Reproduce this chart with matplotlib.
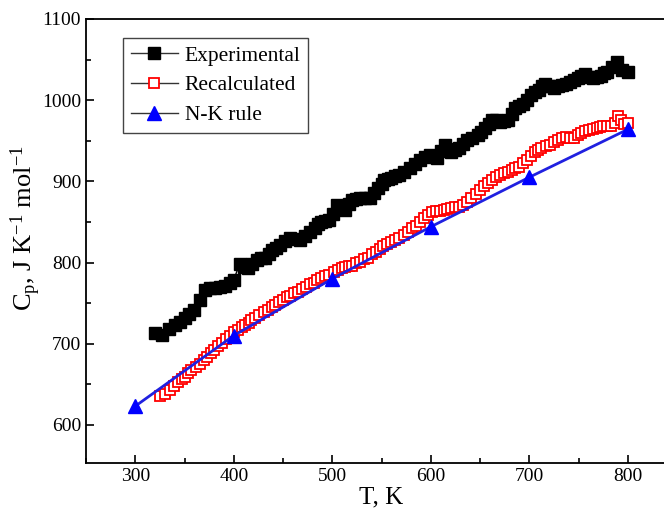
import matplotlib
matplotlib.use("Agg")
import matplotlib.pyplot as plt
from matplotlib.lines import Line2D
from matplotlib.ticker import MultipleLocator

# Experimental data (T, K ; Cp, J K-1 mol-1)
T_exp = [320, 327, 334, 340, 345, 350, 355, 360, 366, 371, 376, 381, 386, 391, 396, 400,
         406, 410, 414, 419, 424, 428, 432, 436, 439, 443, 447, 452, 457, 462, 467, 472,
         477, 482, 486, 489, 493, 497, 501, 505, 509, 513, 517, 520, 524, 528, 533, 538,
         542, 546, 550, 553, 557, 560, 564, 568, 573, 579, 584, 589, 594, 599, 603, 606,
         610, 614, 618, 621, 625, 629, 633, 637, 642, 648, 651, 655, 659, 662, 666, 670,
         674, 678, 682, 686, 690, 694, 698, 702, 706, 710, 713, 716, 720, 725, 729, 733,
         737, 741, 745, 749, 753, 757, 761, 765, 769, 773, 776, 779, 784, 789, 794, 800]
Cp_exp = [713, 711, 718, 723, 727, 732, 737, 742, 754, 766, 768, 769, 770, 771, 775, 779,
          798, 794, 793, 798, 803, 805, 806, 810, 815, 818, 822, 826, 830, 829, 828, 833,
          838, 843, 847, 850, 851, 852, 860, 871, 868, 865, 872, 877, 878, 880, 880, 880,
          886, 892, 897, 902, 903, 904, 906, 908, 912, 917, 921, 926, 930, 933, 931, 929,
          937, 945, 940, 936, 938, 941, 946, 951, 954, 957, 961, 966, 971, 976, 975, 973,
          974, 976, 983, 990, 993, 995, 1000, 1006, 1010, 1013, 1017, 1020, 1017, 1015, 1017, 1019,
          1020, 1022, 1025, 1027, 1030, 1032, 1029, 1027, 1028, 1030, 1033, 1035, 1041, 1047, 1037, 1035]

# Recalculated data
T_rec = [325, 330, 335, 339, 343, 347, 350, 354, 357, 362, 366, 370, 373, 377, 380, 384,
         388, 392, 396, 400, 404, 408, 411, 415, 418, 422, 426, 431, 435, 439, 442, 446,
         450, 454, 457, 461, 465, 469, 473, 477, 481, 485, 489, 493, 497, 502, 506, 510,
         513, 517, 520, 524, 528, 532, 536, 540, 544, 548, 552, 556, 560, 564, 568, 573,
         577, 581, 585, 589, 593, 597, 601, 605, 609, 613, 617, 621, 625, 629, 633, 637,
         641, 646, 650, 654, 658, 662, 666, 670, 674, 678, 682, 686, 690, 694, 698, 702,
         706, 709, 712, 717, 721, 725, 729, 733, 737, 741, 745, 749, 753, 757, 761, 765,
         769, 772, 775, 779, 783, 787, 790, 793, 796, 800]
Cp_rec = [635, 638, 643, 648, 653, 656, 659, 664, 668, 671, 675, 680, 684, 688, 692, 697,
          701, 706, 710, 714, 717, 720, 723, 726, 729, 732, 735, 739, 742, 745, 748, 751,
          754, 757, 759, 762, 764, 767, 770, 773, 775, 778, 781, 783, 785, 788, 791, 793,
          795, 796, 796, 799, 801, 804, 806, 810, 813, 817, 820, 823, 825, 828, 830, 834,
          838, 842, 845, 850, 855, 859, 862, 863, 864, 865, 866, 867, 868, 869, 871, 875,
          880, 885, 889, 894, 898, 902, 905, 908, 910, 912, 914, 916, 918, 922, 926, 931,
          936, 939, 941, 943, 945, 948, 951, 953, 955, 954, 953, 957, 960, 962, 963, 965,
          966, 967, 968, 968, 968, 972, 980, 975, 971, 972]

# N-K rule
T_nk = [300, 400, 500, 600, 700, 800]
Cp_nk = [623, 710, 780, 844, 905, 964]

x_ticks = [300, 400, 500, 600, 700, 800]
y_ticks = [600, 700, 800, 900, 1000, 1100]

plt.rcParams['font.family'] = ['Liberation Serif', 'DejaVu Serif']
plt.rcParams['mathtext.fontset'] = 'custom'
plt.rcParams['mathtext.rm'] = 'Liberation Serif'
plt.rcParams['mathtext.it'] = 'Liberation Serif:italic'

fig = plt.figure(figsize=(6.64, 5.17), dpi=100)
W, H = 664, 517
left_px, top_px, bottom_px = 86, 19, 463
x_scale = 0.985  # px per K
width_px = 600 * x_scale
ax = fig.add_axes([left_px / W, 1 - bottom_px / H, width_px / W, (bottom_px - top_px) / H])

ax.plot(T_exp, Cp_exp, color='black', lw=1, marker='s', ms=8.2,
        mfc='black', mec='black', zorder=3)
ax.plot(T_rec, Cp_rec, color='red', lw=1, marker='s', ms=7.2,
        mfc='white', mec='red', mew=1.3, zorder=4)
ax.plot(T_nk, Cp_nk, color='#2020e0', lw=2, marker='^', ms=10.5,
        mfc='blue', mec='blue', zorder=5)

ax.set_xlim(250, 850)
ax.set_ylim(553, 1100)
ax.set_xticks(x_ticks)
ax.set_yticks(y_ticks)
ax.xaxis.set_minor_locator(MultipleLocator(50))
ax.yaxis.set_minor_locator(MultipleLocator(50))
ax.tick_params(which='both', direction='in', top=False, right=False, labelsize=14)
ax.tick_params(which='major', length=6, width=1.2)
ax.tick_params(which='minor', length=3.5, width=1.2)
for s in ax.spines.values():
    s.set_linewidth(1.3)
ax.spines['right'].set_visible(False)

ax.set_xlabel('T, K', fontsize=18, labelpad=1)
ax.set_ylabel(r'C$_\mathrm{p}$, J K$^{-1}$ mol$^{-1}$', fontsize=19)
ax.yaxis.set_label_coords(-0.073, 0.53)

handles = [
    Line2D([], [], color='#333333', lw=1, marker='s', ms=8.2, mfc='black', mec='black'),
    Line2D([], [], color='#333333', lw=1, marker='s', ms=7.2, mfc='white', mec='red', mew=1.3),
    Line2D([], [], color='#333333', lw=1, marker='^', ms=10.5, mfc='blue', mec='blue'),
]
leg = ax.legend(handles, ['Experimental', 'Recalculated', 'N-K rule'],
                loc='upper left', bbox_to_anchor=(0.063, 0.957), fontsize=15.5,
                frameon=True, fancybox=False, edgecolor='#444444', framealpha=1,
                handlelength=2.2, handletextpad=0.3, borderpad=0.35, labelspacing=0.45,
                borderaxespad=0)
leg.get_frame().set_linewidth(1.0)

fig.savefig('out.png', dpi=100)
